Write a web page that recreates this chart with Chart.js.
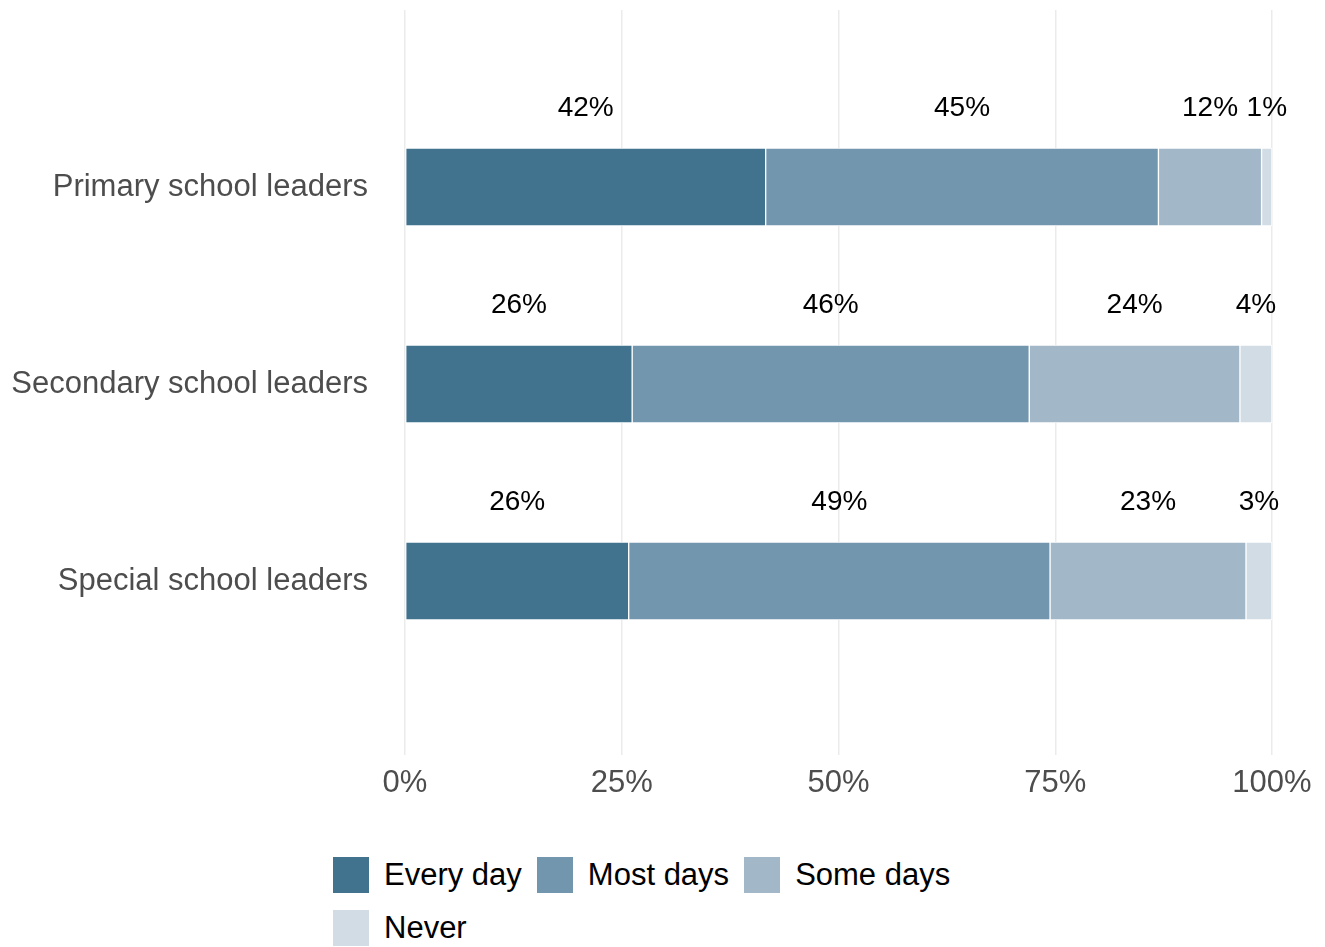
<!DOCTYPE html>
<html>
<head>
<meta charset="utf-8">
<script src="https://cdn.jsdelivr.net/npm/chart.js@4"></script>
<style>
  body { margin: 0; background: #fff; font-family: "Liberation Sans", Arial, sans-serif; }
  #wrap { position: relative; width: 1325px; height: 947px; }
  #chart-box { position: absolute; left: 0; top: 0; width: 1325px; height: 810px; }
  #legend { position: absolute; left: 333px; top: 857px; width: 680px; display: flex; flex-wrap: wrap; column-gap: 15px; row-gap: 17px; }
  .item { display: flex; align-items: center; height: 36px; }
  .swatch { width: 36px; height: 36px; margin-right: 15px; }
  .item span { font-size: 31px; color: #000; }
</style>
</head>
<body>
<div id="wrap">
  <div id="chart-box"><canvas id="leadersChart" width="1325" height="810"></canvas></div>
  <div id="legend"></div>
</div>
<script>
// groups, top to bottom
var categories = ["Primary school leaders", "Secondary school leaders", "Special school leaders"];
var seriesNames = ["Every day", "Most days", "Some days", "Never"];
var colors = ["#41738f", "#7196ae", "#a2b8c8", "#d1dce4"];

// percent of leaders per answer
var everyDay = [41.6, 26.2, 25.8];
var mostDays = [45.3, 45.8, 48.6];
var someDays = [11.9, 24.3, 22.6];
var never = [1.2, 3.7, 3.0];

var xTicks = [0, 25, 50, 75, 100];

var seriesValues = [everyDay, mostDays, someDays, never];

var datasets = [];
for (var s = 0; s < seriesNames.length; ++s) {
  var pts = [];
  for (var i = 0; i < categories.length; ++i) {
    pts.push({x: seriesValues[s][i], y: i});
  }
  datasets.push({
    label: seriesNames[s],
    data: pts,
    backgroundColor: colors[s],
    borderColor: "#ffffff",
    borderWidth: 1,
    borderSkipped: false,
    barThickness: 78
  });
}

// percentage text above the middle of each segment
var segmentLabels = {
  id: "segmentLabels",
  afterDatasetsDraw: function (chart) {
    var ctx = chart.ctx;
    ctx.save();
    ctx.font = "28px 'Liberation Sans', Arial, sans-serif";
    ctx.fillStyle = "#000";
    ctx.textAlign = "center";
    ctx.textBaseline = "middle";
    chart.data.datasets.forEach(function (ds, d) {
      var meta = chart.getDatasetMeta(d);
      meta.data.forEach(function (bar, i) {
        var mid = (bar.x + bar.base) / 2;
        ctx.fillText(Math.round(ds.data[i].x) + "%", mid, bar.y - 79);
      });
    });
    ctx.restore();
  }
};

var font = {family: "'Liberation Sans', Arial, sans-serif", size: 31};

var chart = new Chart(document.getElementById("leadersChart"), {
  type: "bar",
  data: {datasets: datasets},
  plugins: [segmentLabels],
  options: {
    indexAxis: "y",
    responsive: false,
    animation: false,
    layout: {padding: {top: 10, right: 53, bottom: 0, left: 0}},
    plugins: {legend: {display: false}, tooltip: {enabled: false}},
    scales: {
      x: {
        type: "linear",
        stacked: true,
        min: 0,
        max: 100,
        afterBuildTicks: function (scale) {
          scale.ticks = xTicks.map(function (v) { return {value: v}; });
        },
        afterFit: function (scale) { scale.height = 55; },
        ticks: {
          font: font,
          color: "#4d4d4d",
          padding: 10,
          callback: function (v) { return v + "%"; }
        },
        grid: {color: "#ebebeb", lineWidth: 1.5, drawTicks: false},
        border: {display: false}
      },
      y: {
        type: "linear",
        stacked: true,
        reverse: true,
        offset: false,
        min: -0.8985,
        max: 2.8832,
        afterBuildTicks: function (scale) {
          scale.ticks = categories.map(function (c, i) { return {value: i}; });
        },
        afterFit: function (scale) {
          // labels sit well inside the panel, no extra room needed above/below
          scale.width = 405;
          scale.paddingTop = 0;
          scale.paddingBottom = 0;
        },
        ticks: {
          font: font,
          color: "#4d4d4d",
          padding: 37,
          callback: function (v) { return categories[v]; }
        },
        grid: {display: false, drawTicks: false},
        border: {display: false}
      }
    }
  }
});

// legend rows under the chart
var legend = document.getElementById("legend");
seriesNames.forEach(function (name, s) {
  var item = document.createElement("div");
  item.className = "item";
  var sw = document.createElement("div");
  sw.className = "swatch";
  sw.style.background = colors[s];
  var txt = document.createElement("span");
  txt.textContent = name;
  item.appendChild(sw);
  item.appendChild(txt);
  legend.appendChild(item);
});
</script>
</body>
</html>
